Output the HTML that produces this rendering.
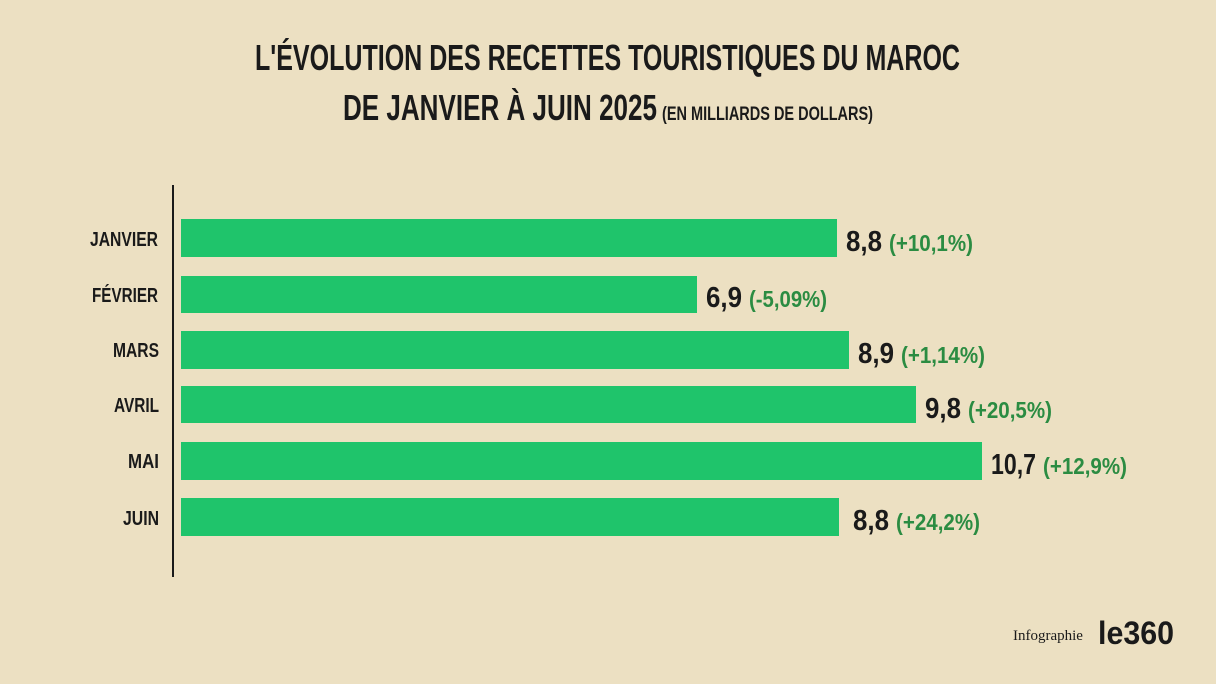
<!DOCTYPE html>
<html><head><meta charset="utf-8"><style>
html,body{margin:0;padding:0;background:#ece0c2;}
svg{display:block}
text{font-family:"Liberation Sans Narrow","Liberation Sans",sans-serif;font-weight:bold}
</style></head><body>
<svg width="1216" height="684" viewBox="0 0 1216 684" xmlns="http://www.w3.org/2000/svg">
<rect width="1216" height="684" fill="#ece0c2"/>
<text x="255" y="70" font-size="36" fill="#1a1a1a" textLength="705" lengthAdjust="spacingAndGlyphs">L'ÉVOLUTION DES RECETTES TOURISTIQUES DU MAROC</text>
<text x="343" y="120" font-size="36" fill="#1a1a1a" textLength="314" lengthAdjust="spacingAndGlyphs">DE JANVIER À JUIN 2025</text>
<text x="662" y="120" font-size="19" fill="#1a1a1a" textLength="211" lengthAdjust="spacingAndGlyphs">(EN MILLIARDS DE DOLLARS)</text>
<line x1="173" y1="185" x2="173" y2="577" stroke="#1a1a1a" stroke-width="2"/>
<g fill="#1fc46b">
<rect x="181" y="219" width="656" height="38"/>
<rect x="181" y="276" width="516" height="37"/>
<rect x="181" y="331" width="668" height="38"/>
<rect x="181" y="386" width="735" height="37"/>
<rect x="181" y="442" width="801" height="38"/>
<rect x="181" y="498" width="658" height="38"/>
</g>
<g font-size="20" fill="#1a1a1a" lengthAdjust="spacingAndGlyphs">
<text x="90" y="246" textLength="68" lengthAdjust="spacingAndGlyphs">JANVIER</text>
<text x="92" y="302" textLength="66" lengthAdjust="spacingAndGlyphs">FÉVRIER</text>
<text x="113" y="357" textLength="46" lengthAdjust="spacingAndGlyphs">MARS</text>
<text x="114" y="412" textLength="45" lengthAdjust="spacingAndGlyphs">AVRIL</text>
<text x="128" y="468" textLength="31" lengthAdjust="spacingAndGlyphs">MAI</text>
<text x="123" y="525" textLength="36" lengthAdjust="spacingAndGlyphs">JUIN</text>
</g>
<g font-size="29" fill="#1a1a1a">
<text x="846" y="251" textLength="36" lengthAdjust="spacingAndGlyphs">8,8</text>
<text x="706" y="307" textLength="36" lengthAdjust="spacingAndGlyphs">6,9</text>
<text x="858" y="363" textLength="36" lengthAdjust="spacingAndGlyphs">8,9</text>
<text x="925" y="418" textLength="36" lengthAdjust="spacingAndGlyphs">9,8</text>
<text x="991" y="474" textLength="45" lengthAdjust="spacingAndGlyphs">10,7</text>
<text x="853" y="530" textLength="36" lengthAdjust="spacingAndGlyphs">8,8</text>
</g>
<g font-size="23" fill="#2b8c42">
<text x="889" y="251" textLength="84" lengthAdjust="spacingAndGlyphs">(+10,1%)</text>
<text x="749" y="307" textLength="78" lengthAdjust="spacingAndGlyphs">(-5,09%)</text>
<text x="901" y="363" textLength="84" lengthAdjust="spacingAndGlyphs">(+1,14%)</text>
<text x="968" y="418" textLength="84" lengthAdjust="spacingAndGlyphs">(+20,5%)</text>
<text x="1043" y="474" textLength="84" lengthAdjust="spacingAndGlyphs">(+12,9%)</text>
<text x="896" y="530" textLength="84" lengthAdjust="spacingAndGlyphs">(+24,2%)</text>
</g>
<text x="1013" y="640" font-size="15" fill="#1a1a1a" style="font-family:'Liberation Serif',serif;font-weight:normal">Infographie</text>
<text x="1098" y="644" font-size="32" fill="#1a1a1a" textLength="76" lengthAdjust="spacingAndGlyphs" style="font-family:'Liberation Sans',sans-serif">le360</text>
</svg>
</body></html>
